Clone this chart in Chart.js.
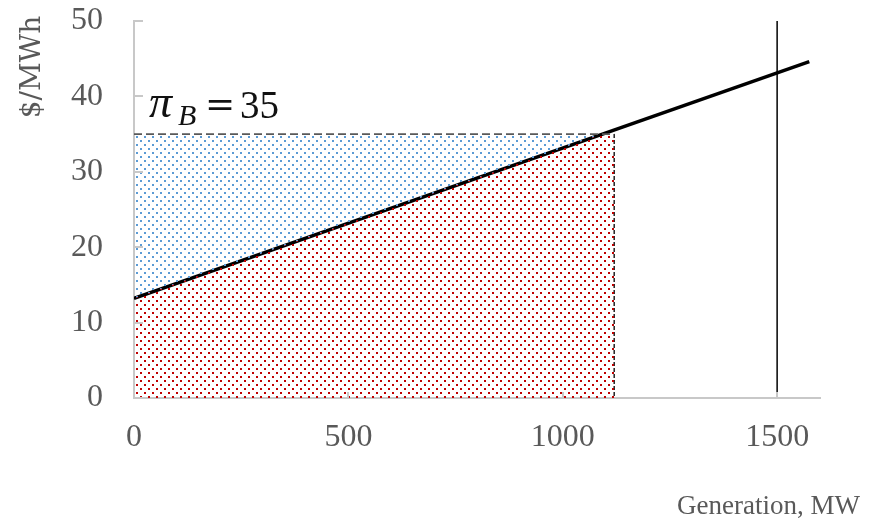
<!DOCTYPE html>
<html>
<head>
<meta charset="utf-8">
<script src="https://cdn.jsdelivr.net/npm/chart.js@4.4.1/dist/chart.umd.min.js"></script>
<style>
  html, body { margin: 0; padding: 0; background: #ffffff; }
  #wrap { width: 882px; height: 526px; }
</style>
</head>
<body>
<div id="wrap"><canvas id="chart" width="882" height="526"></canvas></div>
<script>
// Supply curve (MW, $/MWh)
const supplyQ = [0, 1575];
const supplyP = [13.2, 44.6];
// Market clearing price and dispatched quantity
const priceB = 35;
const dispatchQ = 1120;
// Capacity limit
const capacityQ = 1500;
// Axis ticks
const xTicks = [0, 500, 1000, 1500];
const yTicks = [0, 10, 20, 30, 40, 50];

const slope = (supplyP[1] - supplyP[0]) / (supplyQ[1] - supplyQ[0]);
const crossQ = (priceB - supplyP[0]) / slope;

const canvas = document.getElementById('chart');
const ctx = canvas.getContext('2d');

function dotPattern(color) {
  const c = document.createElement('canvas');
  c.width = 8; c.height = 8;
  const g = c.getContext('2d');
  g.fillStyle = color;
  g.fillRect(0, 0, 2, 2);
  g.fillRect(4, 4, 2, 2);
  return ctx.createPattern(c, 'repeat');
}

const tickFont = { family: 'Liberation Serif', size: 32 };
const grey = '#595959';
const axisColor = '#C8C8C8';

// Inner tick marks, axis titles and the price label
const decorations = {
  id: 'decorations',
  afterDraw(chart) {
    const c = chart.ctx;
    const xs = chart.scales.x, ys = chart.scales.y;
    const area = chart.chartArea;
    c.save();
    c.strokeStyle = axisColor;
    c.lineWidth = 2;
    yTicks.forEach(v => {
      const y = Math.round(ys.getPixelForValue(v));
      c.beginPath(); c.moveTo(area.left, y); c.lineTo(area.left + 9, y); c.stroke();
    });
    xTicks.forEach(v => {
      const x = Math.round(xs.getPixelForValue(v));
      c.beginPath(); c.moveTo(x, area.bottom); c.lineTo(x, area.bottom - 6); c.stroke();
    });

    // axis titles
    c.fillStyle = grey;
    c.font = '28px "DejaVu Serif"';
    c.textAlign = 'center';
    c.textBaseline = 'middle';
    c.save();
    c.translate(33, 67);
    c.rotate(-Math.PI / 2);
    c.fillText('$/MWh', 0, 0);
    c.restore();

    c.font = '27px "Liberation Serif"';
    c.textAlign = 'right';
    c.textBaseline = 'alphabetic';
    c.fillText('Generation, MW', 860, 514);

    // price label
    c.fillStyle = '#111111';
    c.textAlign = 'left';
    const base = 118;
    c.font = 'italic 46px "Liberation Serif"';
    c.fillText('\u03C0', 149, base - 1);
    c.font = 'italic 30px "Liberation Serif"';
    c.fillText('B', 178, base + 7);
    c.font = '36px "DejaVu Serif"';
    c.fillText('=', 205, base - 2);
    c.font = '39px "Liberation Serif"';
    c.fillText(String(priceB), 240, base);
    c.restore();
  }
};

new Chart(ctx, {
  type: 'line',
  data: {
    datasets: [
      {
        // revenue below the supply curve
        data: [
          { x: 0, y: supplyP[0] },
          { x: crossQ, y: priceB },
          { x: dispatchQ, y: priceB }
        ],
        borderWidth: 0,
        pointRadius: 0,
        fill: 'origin',
        backgroundColor: dotPattern('#C00000')
      },
      {
        // surplus between price and supply curve
        data: [
          { x: 0, y: priceB },
          { x: crossQ, y: priceB },
          { x: dispatchQ, y: priceB }
        ],
        borderWidth: 0,
        pointRadius: 0,
        fill: '-1',
        backgroundColor: dotPattern('#5B9BD5')
      },
      {
        // price level
        data: [{ x: 0, y: priceB }, { x: dispatchQ, y: priceB }],
        borderColor: '#595959',
        borderWidth: 1.8,
        borderDash: [8, 4],
        pointRadius: 0,
        fill: false
      },
      {
        // dispatched quantity
        data: [{ x: dispatchQ, y: priceB }, { x: dispatchQ, y: 0 }],
        borderColor: '#222222',
        borderWidth: 1.5,
        borderDash: [4, 2],
        pointRadius: 0,
        fill: false
      },
      {
        // capacity limit
        data: [{ x: capacityQ, y: 0 }, { x: capacityQ, y: 50 }],
        borderColor: '#000000',
        borderWidth: 1.5,
        pointRadius: 0,
        fill: false
      },
      {
        // supply curve
        data: supplyQ.map((q, i) => ({ x: q, y: supplyP[i] })),
        borderColor: '#000000',
        borderWidth: 3.5,
        pointRadius: 0,
        fill: false
      }
    ]
  },
  options: {
    responsive: false,
    animation: false,
    layout: { padding: { top: 21, right: 62, left: 0, bottom: 0 } },
    plugins: { legend: { display: false }, tooltip: { enabled: false } },
    scales: {
      x: {
        type: 'linear',
        min: 0,
        max: 1600,
        afterBuildTicks: s => { s.ticks = xTicks.map(v => ({ value: v })); },
        afterFit: s => { s.height = 128; s.paddingLeft = 0; s.paddingRight = 0; },
        grid: { display: false, drawTicks: false },
        border: { display: true, color: axisColor, width: 2 },
        ticks: { font: tickFont, color: grey, padding: 20, maxRotation: 0, callback: v => String(v) }
      },
      y: {
        type: 'linear',
        min: 0,
        max: 50,
        afterBuildTicks: s => { s.ticks = yTicks.map(v => ({ value: v })); },
        afterFit: s => { s.width = 134; s.paddingTop = 0; s.paddingBottom = 0; },
        grid: { display: false, drawTicks: false },
        border: { display: true, color: axisColor, width: 2 },
        ticks: { font: tickFont, color: grey, padding: 31, callback: v => String(v) }
      }
    }
  },
  plugins: [decorations]
});
</script>
</body>
</html>
